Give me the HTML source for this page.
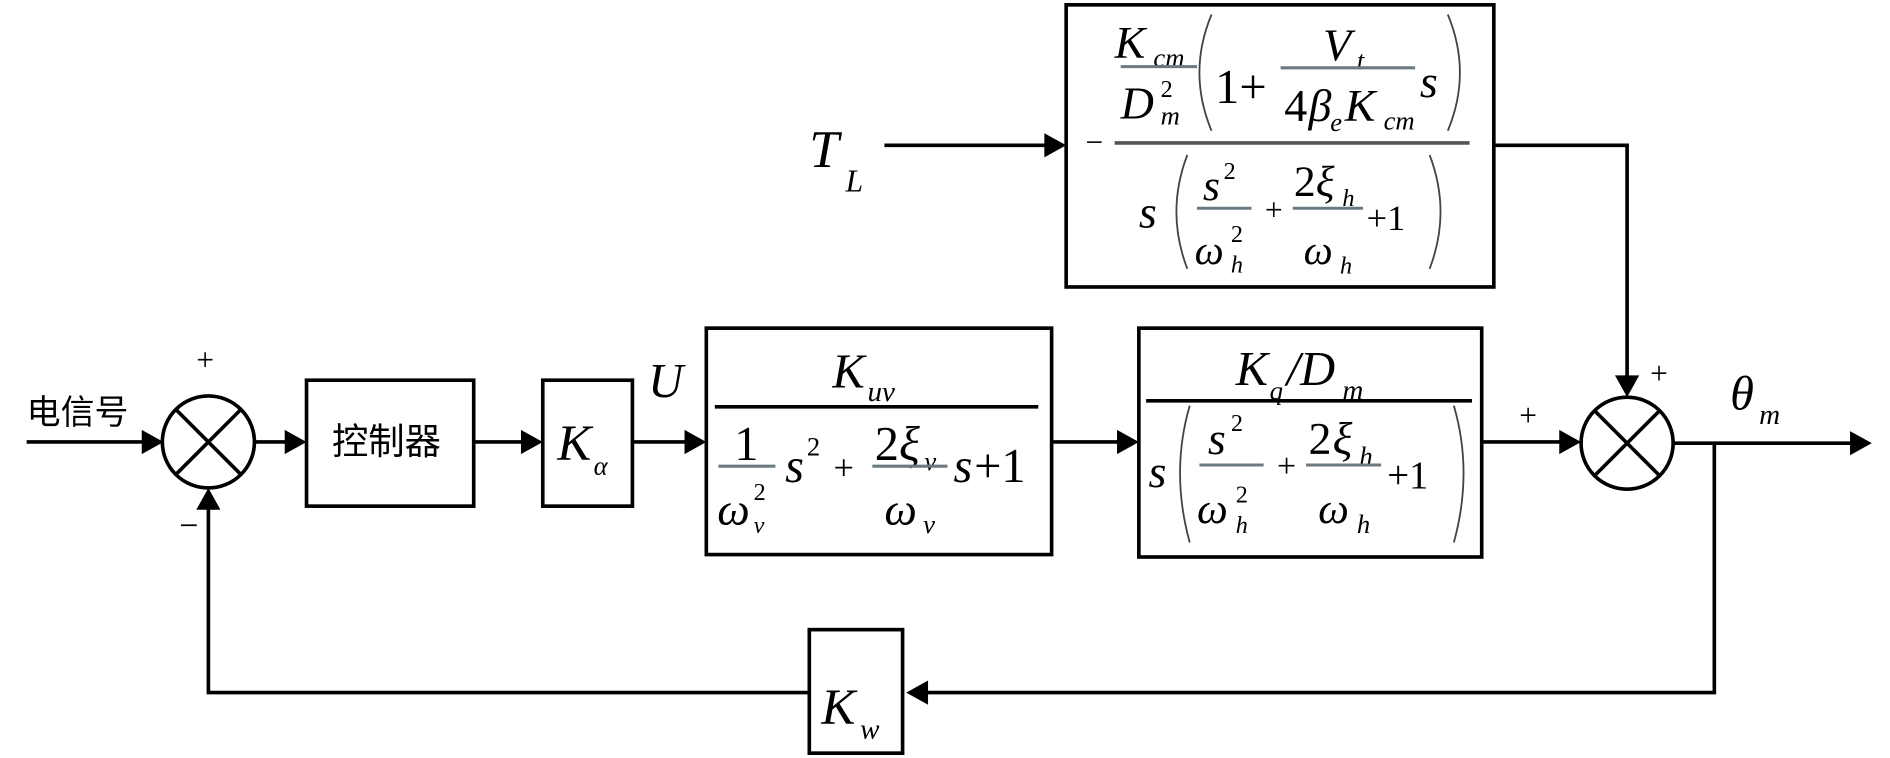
<!DOCTYPE html>
<html><head><meta charset="utf-8"><style>
html,body{margin:0;padding:0;background:#fff;}
svg{display:block;}
text{font-family:"Liberation Serif",serif;font-style:italic;fill:#000;}
.r{font-style:normal;}
.cn{font-family:"Liberation Sans","Noto Sans CJK SC",sans-serif;font-style:normal;}
.bar{stroke:#6a7a80;stroke-width:2.5;}
.par{fill:none;stroke:#444;stroke-width:1.5;}
</style></head><body>
<svg width="1890" height="758" viewBox="0 0 1560 626" preserveAspectRatio="none" xmlns="http://www.w3.org/2000/svg">
<g stroke="#000" stroke-width="3" fill="none">
<rect x="880" y="4" width="353" height="233"/>
<rect x="583" y="271" width="285" height="187"/>
<rect x="940" y="271" width="283" height="189"/>
<rect x="253" y="314" width="138" height="104"/>
<rect x="448" y="314" width="74" height="104"/>
<rect x="668" y="520" width="77" height="102"/>
<circle cx="172" cy="365" r="38"/>
<line x1="145" y1="338" x2="199" y2="392"/><line x1="199" y1="338" x2="145" y2="392"/>
<circle cx="1343" cy="366" r="38"/>
<line x1="1316" y1="339" x2="1370" y2="393"/><line x1="1370" y1="339" x2="1316" y2="393"/>
<line x1="22" y1="365" x2="125" y2="365"/>
<line x1="210" y1="365" x2="244" y2="365"/>
<line x1="391" y1="365" x2="438" y2="365"/>
<line x1="522" y1="365" x2="573" y2="365"/>
<line x1="868" y1="365" x2="930" y2="365"/>
<line x1="1223" y1="365" x2="1295" y2="365"/>
<line x1="1381" y1="366" x2="1530" y2="366"/>
<line x1="730" y1="120" x2="870" y2="120"/>
<polyline points="1233,120 1343,120 1343,318"/>
<polyline points="1415,366 1415,572 758,572"/>
<polyline points="668,572 172,572 172,417"/>
</g>
<g fill="#000">
<polygon points="135,365 117,355 117,375"/>
<polygon points="253,365 235,355 235,375"/>
<polygon points="448,365 430,355 430,375"/>
<polygon points="583,365 565,355 565,375"/>
<polygon points="940,365 922,355 922,375"/>
<polygon points="1305,365 1287,355 1287,375"/>
<polygon points="1545,366 1527,356 1527,376"/>
<polygon points="880,120 862,110 862,130"/>
<polygon points="1343,328 1333,310 1353,310"/>
<polygon points="748,572 766,562 766,582"/>
<polygon points="172,403 162,421 182,421"/>
</g>
<text class="cn" x="22" y="350" font-size="28">电信号</text>
<text class="r" x="162" y="306" font-size="26">+</text>
<text class="r" x="148" y="443" font-size="28">−</text>
<text class="r" x="1254" y="352" font-size="26">+</text>
<text class="r" x="1362" y="317" font-size="26">+</text>
<text x="668" y="138" font-size="44">T</text><text x="698" y="158" font-size="26">L</text>
<text x="535" y="328" font-size="40">U</text>
<text x="1428" y="338" font-size="40">θ</text><text x="1452" y="350" font-size="24">m</text>
<text class="cn" x="274" y="375" font-size="30">控制器</text>
<text x="460" y="380" font-size="42">K</text><text x="490" y="392" font-size="22">α</text>
<text x="678" y="598" font-size="42">K</text><text x="710" y="610" font-size="24">w</text>
<text x="687" y="320" font-size="40">K</text><text x="716" y="331" font-size="24">uv</text>
<line x1="590" y1="336" x2="857" y2="336" stroke="#000" stroke-width="3"/>
<text class="r" x="606" y="380" font-size="40">1</text>
<line class="bar" x1="593" y1="385" x2="640" y2="385"/>
<text x="592" y="433" font-size="38">ω</text><text x="622" y="413" font-size="20" class="r">2</text><text x="622" y="440" font-size="20">v</text>
<text x="648" y="398" font-size="40">s</text><text class="r" x="666" y="376" font-size="22">2</text>
<text class="r" x="688" y="396" font-size="30">+</text>
<text class="r" x="722" y="380" font-size="40">2</text><text x="742" y="380" font-size="40">ξ</text><text x="763" y="388" font-size="22">v</text>
<line class="bar" x1="720" y1="385" x2="782" y2="385"/>
<text x="730" y="433" font-size="38">ω</text><text x="762" y="440" font-size="22">v</text>
<text x="787" y="398" font-size="40">s</text><text class="r" x="804" y="398" font-size="40">+1</text>
<text x="1020" y="318" font-size="40">K</text><text x="1048" y="330" font-size="22">q</text><text x="1062" y="318" font-size="40">/D</text><text x="1108" y="330" font-size="24">m</text>
<line x1="946" y1="331" x2="1215" y2="331" stroke="#000" stroke-width="3"/>
<text x="948" y="402" font-size="38">s</text>
<path class="par" d="M982,335 Q966,390 982,448"/>
<path class="par" d="M1200,335 Q1216,390 1200,448"/>
<text x="997" y="375" font-size="38">s</text><text class="r" x="1016" y="356" font-size="20">2</text>
<line class="bar" x1="990" y1="384" x2="1043" y2="384"/>
<text x="988" y="432" font-size="36">ω</text><text class="r" x="1020" y="415" font-size="20">2</text><text x="1020" y="440" font-size="20">h</text>
<text class="r" x="1054" y="394" font-size="28">+</text>
<text class="r" x="1080" y="375" font-size="38">2</text><text x="1100" y="375" font-size="38">ξ</text><text x="1122" y="384" font-size="22">h</text>
<line class="bar" x1="1078" y1="384" x2="1140" y2="384"/>
<text x="1088" y="432" font-size="36">ω</text><text x="1120" y="440" font-size="22">h</text>
<text class="r" x="1145" y="403" font-size="32">+1</text>
<text class="r" x="896" y="126" font-size="26">−</text>
<line x1="920" y1="118" x2="1213" y2="118" stroke="#555" stroke-width="3"/>
<text x="920" y="48" font-size="38">K</text><text x="952" y="55" font-size="22">cm</text>
<line class="bar" x1="925" y1="55" x2="988" y2="55"/>
<text x="925" y="98" font-size="38">D</text><text class="r" x="958" y="80" font-size="20">2</text><text x="958" y="103" font-size="22">m</text>
<path class="par" d="M1000,12 Q980,60 1000,108"/>
<path class="par" d="M1195,12 Q1215,60 1195,108"/>
<text class="r" x="1003" y="85" font-size="40">1+</text>
<text x="1092" y="50" font-size="38">V</text><text x="1120" y="57" font-size="22">t</text>
<line class="bar" x1="1057" y1="56" x2="1168" y2="56"/>
<text class="r" x="1060" y="100" font-size="38">4</text><text x="1080" y="100" font-size="38">β</text><text x="1098" y="108" font-size="22">e</text><text x="1110" y="100" font-size="38">K</text><text x="1142" y="107" font-size="22">cm</text>
<text x="1172" y="80" font-size="38">s</text>
<text x="940" y="188" font-size="38">s</text>
<path class="par" d="M980,128 Q962,175 980,222"/>
<path class="par" d="M1180,128 Q1198,175 1180,222"/>
<text x="993" y="165" font-size="36">s</text><text class="r" x="1010" y="148" font-size="20">2</text>
<line class="bar" x1="988" y1="172" x2="1033" y2="172"/>
<text x="986" y="218" font-size="34">ω</text><text class="r" x="1016" y="200" font-size="20">2</text><text x="1016" y="225" font-size="20">h</text>
<text class="r" x="1044" y="182" font-size="26">+</text>
<text class="r" x="1068" y="162" font-size="36">2</text><text x="1086" y="162" font-size="36">ξ</text><text x="1108" y="170" font-size="20">h</text>
<line class="bar" x1="1067" y1="172" x2="1125" y2="172"/>
<text x="1076" y="218" font-size="34">ω</text><text x="1106" y="226" font-size="20">h</text>
<text class="r" x="1128" y="190" font-size="30">+1</text>
</svg>
</body></html>
